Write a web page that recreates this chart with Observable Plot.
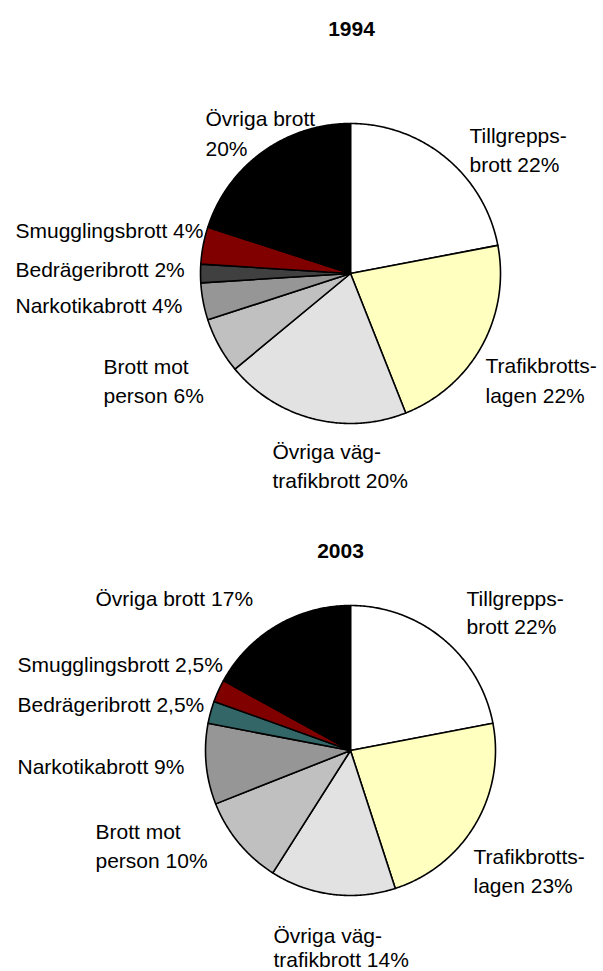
<!DOCTYPE html>
<html>
<head>
<meta charset="utf-8">
<script src="https://cdn.jsdelivr.net/npm/d3@7"></script>
<script src="https://cdn.jsdelivr.net/npm/@observablehq/plot@0.6"></script>
<style>
  html, body { margin: 0; padding: 0; background: #ffffff; }
  #chart svg { display: block; }
</style>
</head>
<body>
<div id="chart"></div>
<script>
// ---------- data ----------
const categories = [
  "Tillgreppsbrott", "Trafikbrottslagen", "Övriga vägtrafikbrott", "Brott mot person",
  "Narkotikabrott", "Bedrägeribrott", "Smugglingsbrott", "Övriga brott"
];
const years = ["1994", "2003"];
const values1994 = [22, 22, 20, 6, 4, 2, 4, 20];
const values2003 = [22, 23, 14, 10, 9, 2.5, 2.5, 17];
// label text templates ({} = the value)
const labels1994 = [
  "Tillgrepps-\nbrott {}", "Trafikbrotts-\nlagen {}", "Övriga väg-\ntrafikbrott {}", "Brott mot\nperson {}",
  "Narkotikabrott {}", "Bedrägeribrott {}", "Smugglingsbrott {}", "Övriga brott\n{}"
];
const labels2003 = [
  "Tillgrepps-\nbrott {}", "Trafikbrotts-\nlagen {}", "Övriga väg-\ntrafikbrott {}", "Brott mot\nperson {}",
  "Narkotikabrott {}", "Bedrägeribrott {}", "Smugglingsbrott {}", "Övriga brott {}"
];

// ---------- styles / layout ----------
const colors1994 = ["#ffffff", "#ffffc0", "#e2e2e2", "#c0c0c0", "#969696", "#404040", "#800000", "#000000"];
const colors2003 = ["#ffffff", "#ffffc0", "#e2e2e2", "#c0c0c0", "#969696", "#336666", "#800000", "#000000"];
const W = 603, H = 971;
const FONT = 21;
const pies = [
  {cx: 350, cy: 273, r: 150, titleX: 351, titleY: 35},
  {cx: 350, cy: 750, r: 145, titleX: 340, titleY: 557}
];
// [x, first baseline, line gap]
const labelPos1994 = [[469, 142, 29], [485, 372, 30], [272, 458, 29], [103, 373, 29], [15, 312, 29], [15, 276, 29], [15, 237, 29], [205, 125, 30]];
const labelPos2003 = [[466, 605, 28], [473, 863, 29], [273, 942, 24], [95, 838, 29], [17, 773, 29], [17, 711, 29], [17, 671, 29], [95, 605, 29]];

// ---------- build ----------
const fmt = v => String(v).replace(".", ",") + "%";
const series = [
  {values: values1994, labels: labels1994, colors: colors1994, pos: labelPos1994},
  {values: values2003, labels: labels2003, colors: colors2003, pos: labelPos2003}
];

const marks = [];
const textRows = [];
const titleRows = [];

series.forEach((s, k) => {
  const g = pies[k];
  const arcs = d3.pie().sort(null).startAngle(0).endAngle(2 * Math.PI)(s.values);
  arcs.forEach((a, i) => {
    const pts = [{x: g.cx, y: g.cy}];
    const n = Math.max(2, Math.ceil((a.endAngle - a.startAngle) / (Math.PI / 360)));
    for (let j = 0; j <= n; j++) {
      const t = a.startAngle + (a.endAngle - a.startAngle) * j / n;
      pts.push({x: g.cx + g.r * Math.sin(t), y: g.cy - g.r * Math.cos(t)});
    }
    pts.push({x: g.cx, y: g.cy});
    marks.push(Plot.line(pts, {
      x: "x", y: "y", fill: s.colors[i], stroke: "#000", strokeWidth: 1.6,
      strokeLinejoin: "round", curve: "linear",
      title: () => `${categories[i]} ${years[k]}: ${fmt(s.values[i])}`
    }));
    const txt = s.labels[i].replace("{}", fmt(s.values[i]));
    const [lx, ly, gap] = s.pos[i];
    txt.split("\n").forEach((line, li) => {
      textRows.push({x: lx, y: ly + li * gap, text: line});
    });
  });
  titleRows.push({x: g.titleX, y: g.titleY, text: years[k]});
});

marks.push(Plot.text(textRows, {
  x: "x", y: "y", text: "text", textAnchor: "start", lineAnchor: "bottom",
  fontSize: FONT, fill: "#000"
}));
marks.push(Plot.text(titleRows, {
  x: "x", y: "y", text: "text", textAnchor: "middle", lineAnchor: "bottom",
  fontSize: FONT, fontWeight: "bold", fill: "#000"
}));

const chart = Plot.plot({
  width: W,
  height: H,
  margin: 0,
  x: {type: "linear", domain: [0, W], range: [0, W], axis: null},
  y: {type: "linear", domain: [0, H], range: [0, H], axis: null},
  style: {fontFamily: "'Liberation Sans', Arial, sans-serif", background: "#ffffff", color: "#000"},
  marks
});
document.getElementById("chart").appendChild(chart);
</script>
</body>
</html>
